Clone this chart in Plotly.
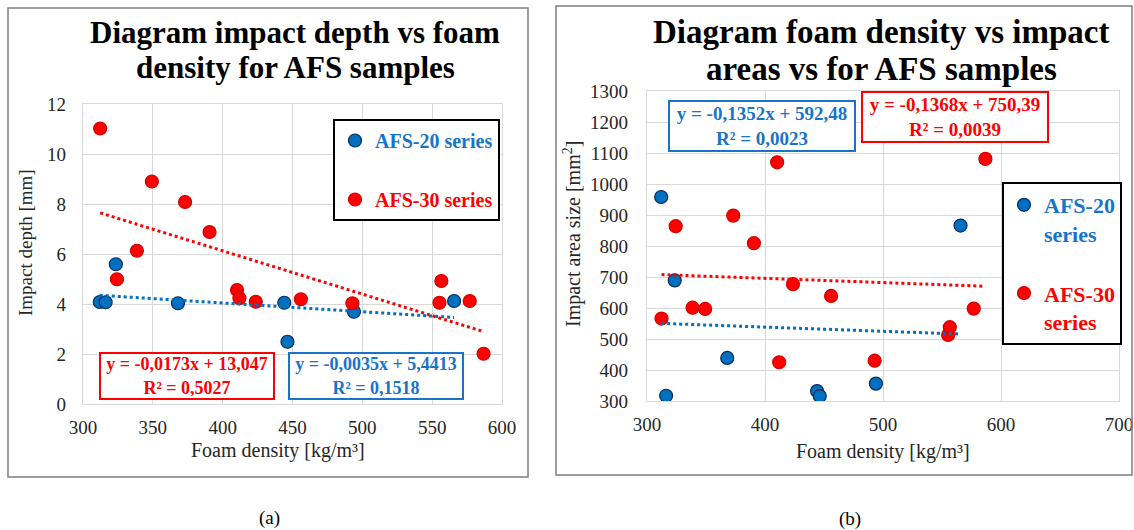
import plotly.graph_objects as go

# ---------------- data ----------------
# AFS-20 series samples
afs20_density = [312.0, 316.2, 323.5, 368.0, 444.1, 446.4, 494.0, 565.7]
afs20_depth = [4.08, 4.07, 5.59, 4.03, 4.05, 2.49, 3.69, 4.12]
afs20_area = [958, 317, 689, 439, 332, 316, 356, 866]

# AFS-30 series samples
afs30_density = [312.3, 324.3, 338.6, 349.3, 373.1, 390.6, 410.3, 412.0,
                 423.7, 456.0, 492.9, 555.2, 556.6, 576.9, 586.8]
afs30_depth = [11.02, 4.99, 6.13, 8.90, 8.08, 6.88, 4.56, 4.23,
               4.09, 4.19, 4.03, 4.05, 4.92, 4.12, 2.01]
afs30_area = [566, 864, 601, 597, 898, 809, 1070, 425,
              677, 639, 430, 513, 538, 598, 1081]

# linear trend lines (slope, intercept) as printed on the charts
depth_fit_20 = [-0.0035, 5.4413]
depth_fit_30 = [-0.0173, 13.047]
area_fit_20 = [-0.1352, 592.48]
area_fit_30 = [-0.1368, 750.39]

depth_eq_20 = "y = -0,0035x + 5,4413<br>R² = 0,1518"
depth_eq_30 = "y = -0,0173x + 13,047<br>R² = 0,5027"
area_eq_20 = "y = -0,1352x + 592,48<br>R² = 0,0023"
area_eq_30 = "y = -0,1368x + 750,39<br>R² = 0,0039"

depth_ticks = [0, 2, 4, 6, 8, 10, 12]
area_ticks = [300, 400, 500, 600, 700, 800, 900, 1000, 1100, 1200, 1300]
density_ticks_a = [300, 350, 400, 450, 500, 550, 600]
density_ticks_b = [300, 400, 500, 600, 700]

# ---------------- styling ----------------
W, H = 1134, 530
BLUE = "#0070C0"
BLUE_TXT = "#1874C8"
BLUE_EDGE = "#0B2A5A"
RED = "#FF0000"
RED_EDGE = "#D00000"
GRID = "#D9D9D9"
SERIF = "Liberation Serif"
TXT = "#262626"


def px(x):
    return x / W


def py(y):
    return 1 - y / H


def trend(xs, fit):
    x0, x1 = min(xs), max(xs)
    return [x0, x1], [fit[0] * x0 + fit[1], fit[0] * x1 + fit[1]]


fig = go.Figure()

# ----- chart (a) -----
fig.add_trace(go.Scatter(
    x=afs20_density, y=afs20_depth, mode="markers", xaxis="x", yaxis="y",
    name=f'<span style="color:{BLUE_TXT}">AFS-20 series</span>',
    legendgroup="a20", legend="legend",
    marker=dict(size=13, color=BLUE, line=dict(color=BLUE_EDGE, width=1.2))))
fig.add_trace(go.Scatter(
    x=afs30_density, y=afs30_depth, mode="markers", xaxis="x", yaxis="y",
    name=f'<span style="color:{RED}">AFS-30 series</span>',
    legendgroup="a30", legend="legend",
    marker=dict(size=13, color=RED, line=dict(color=RED_EDGE, width=1.2))))
tx, ty = trend(afs20_density, depth_fit_20)
fig.add_trace(go.Scatter(x=tx, y=ty, mode="lines", xaxis="x", yaxis="y", showlegend=False,
                         line=dict(color=BLUE, width=3, dash="dot")))
tx, ty = trend(afs30_density, depth_fit_30)
fig.add_trace(go.Scatter(x=tx, y=ty, mode="lines", xaxis="x", yaxis="y", showlegend=False,
                         line=dict(color=RED, width=3, dash="dot")))

# ----- chart (b) -----
fig.add_trace(go.Scatter(
    x=afs20_density, y=afs20_area, mode="markers", xaxis="x2", yaxis="y2",
    name=f'<span style="color:{BLUE_TXT}">AFS-20<br>series</span>',
    legendgroup="b20", legend="legend2",
    marker=dict(size=13, color=BLUE, line=dict(color=BLUE_EDGE, width=1.2))))
fig.add_trace(go.Scatter(
    x=afs30_density, y=afs30_area, mode="markers", xaxis="x2", yaxis="y2",
    name=f'<span style="color:{RED}">AFS-30<br>series</span>',
    legendgroup="b30", legend="legend2",
    marker=dict(size=13, color=RED, line=dict(color=RED_EDGE, width=1.2))))
tx, ty = trend(afs20_density, area_fit_20)
fig.add_trace(go.Scatter(x=tx, y=ty, mode="lines", xaxis="x2", yaxis="y2", showlegend=False,
                         line=dict(color=BLUE, width=3, dash="dot")))
tx, ty = trend(afs30_density, area_fit_30)
fig.add_trace(go.Scatter(x=tx, y=ty, mode="lines", xaxis="x2", yaxis="y2", showlegend=False,
                         line=dict(color=RED, width=3, dash="dot")))

axis_common = dict(showgrid=True, gridcolor=GRID, gridwidth=1.3, showline=True, mirror=True,
                   linecolor=GRID, linewidth=1.3, zeroline=False, ticks="", automargin=False,
                   tickfont=dict(family=SERIF, size=19, color=TXT))

fig.update_layout(
    width=W, height=H, margin=dict(l=0, r=0, t=0, b=0, pad=0, autoexpand=False),
    font=dict(family=SERIF),
    paper_bgcolor="white", plot_bgcolor="white", showlegend=True,
    xaxis=dict(domain=[px(83), px(502)], range=[300, 600], tickvals=density_ticks_a,
               anchor="y", ticklabelstandoff=6, **axis_common),
    yaxis=dict(domain=[py(404), py(104)], range=[0, 12], tickvals=depth_ticks,
               anchor="x", ticklabelstandoff=12, **axis_common),
    xaxis2=dict(domain=[px(647), px(1119)], range=[300, 700], tickvals=density_ticks_b,
                anchor="y2", ticklabelstandoff=6, **axis_common),
    yaxis2=dict(domain=[py(401), py(91)], range=[300, 1300], tickvals=area_ticks,
                anchor="x2", ticklabelstandoff=14, **axis_common),
    legend=dict(x=px(333), y=py(119), xanchor="left", yanchor="top",
                bgcolor="white", bordercolor="black", borderwidth=2,
                font=dict(family=SERIF, size=20, weight="bold"),
                tracegroupgap=30, itemwidth=30),
    legend2=dict(x=px(1002), y=py(182), xanchor="left", yanchor="top",
                 bgcolor="white", bordercolor="black", borderwidth=2, valign="top",
                 font=dict(family=SERIF, size=22, weight="bold"),
                 tracegroupgap=28, itemwidth=30),
)

# panel borders
shapes = [
    dict(type="rect", xref="paper", yref="paper", x0=px(8), x1=px(528), y0=py(477), y1=py(8),
         line=dict(color="#7F7F7F", width=1.5)),
    dict(type="rect", xref="paper", yref="paper", x0=px(556), x1=px(1132), y0=py(475), y1=py(6),
         line=dict(color="#7F7F7F", width=1.5)),
]
fig.update_layout(shapes=shapes)

ann = []


def text(x, y, s, size, color=TXT, bold=False, angle=0, **kw):
    ann.append(dict(x=px(x), y=py(y), xref="paper", yref="paper", text=s, showarrow=False,
                    xanchor="center", yanchor="middle", textangle=angle,
                    font=dict(family=SERIF, size=size, color=color,
                              weight="bold" if bold else "normal"), **kw))


# titles
text(295, 33, "Diagram impact depth vs foam", 31, "black", True)
text(295, 68, "density for AFS samples", 31, "black", True)
text(881, 32, "Diagram foam density vs impact", 33, "black", True)
text(881, 69, "areas vs for AFS samples", 33, "black", True)

# axis titles
text(278, 450, "Foam density [kg/m³]", 20)
text(25, 243, "Impact depth [mm]", 19, angle=-90)
text(883, 451, "Foam density [kg/m³]", 20)
text(572, 234, "Impact area size [mm<sup>2</sup>]", 20, angle=-90)

# equation boxes
box = dict(bgcolor="white", borderwidth=2, borderpad=2)
text(187, 375.5, "<b>" + depth_eq_30 + "</b>", 18, RED, bordercolor=RED, width=168, height=40, **box)
text(375.5, 375.5, "<b>" + depth_eq_20 + "</b>", 18, BLUE_TXT, bordercolor=BLUE_TXT, width=168, height=40, **box)
text(761.5, 126, "<b>" + area_eq_20 + "</b>", 19, BLUE_TXT, bordercolor=BLUE_TXT, width=180, height=44, **box)
text(954.5, 116.7, "<b>" + area_eq_30 + "</b>", 19, RED, bordercolor=RED, width=180, height=44, **box)

# panel labels
text(269, 518, "(a)", 19, "black")
text(850, 519, "(b)", 19, "black")

fig.update_layout(annotations=ann)
fig.write_html(
    "out.html",
    config={"displayModeBar": False},
    post_script="document.body.style.margin='0px';document.body.style.overflow='hidden';",
)
